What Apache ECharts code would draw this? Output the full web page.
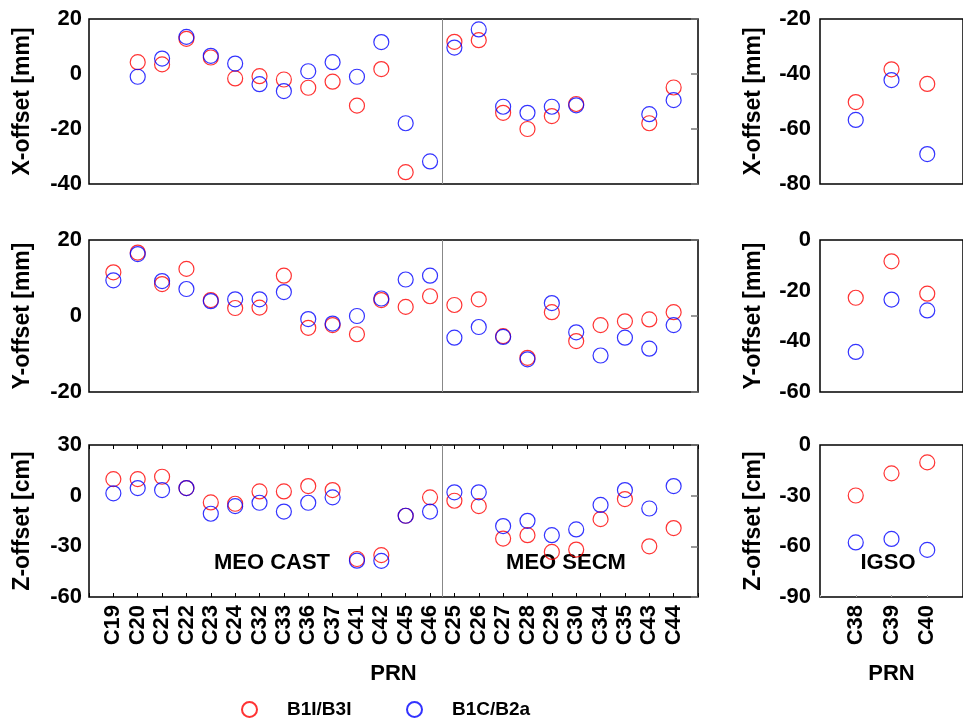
<!DOCTYPE html>
<html>
<head>
<meta charset="utf-8">
<script src="https://cdn.jsdelivr.net/npm/echarts@6/dist/echarts.min.js"></script>
<style>
  html, body { margin: 0; padding: 0; background: #fff; }
  #chart { width: 963px; height: 720px; }
</style>
</head>
<body>
<div id="chart"></div>
<script>
// Satellite PRNs, MEO (CAST then SECM) and IGSO
const prnMeo = ['C19','C20','C21','C22','C23','C24','C32','C33','C36','C37','C41','C42','C45','C46',
                'C25','C26','C27','C28','C29','C30','C34','C35','C43','C44'];
const prnIgso = ['C38','C39','C40'];

// PCO offsets, MEO satellites (null = no estimate)
const xMeoB1I = [null, 4.3, 3.5, 12.8, 6.0, -1.6, -0.8, -2.0, -5.0, -2.8, -11.5, 1.8, -35.7, null,
                 11.7, 12.3, -14.1, -20.0, -15.3, -10.9, null, null, -17.9, -4.9];
const xMeoB1C = [null, -1.0, 5.6, 13.5, 6.6, 3.8, -3.7, -6.2, 1.0, 4.3, -1.0, 11.6, -17.9, -31.8,
                 9.6, 16.2, -11.9, -14.1, -11.9, -11.4, null, null, -14.6, -9.5];
const yMeoB1I = [11.5, 16.7, 8.4, 12.4, 4.2, 2.1, 2.2, 10.6, -3.1, -2.4, -4.8, 4.2, 2.4, 5.2,
                 2.9, 4.4, -5.3, -11.0, 1.0, -6.6, -2.4, -1.4, -0.9, 1.0];
const yMeoB1C = [9.4, 16.3, 9.2, 7.1, 3.9, 4.4, 4.4, 6.3, -0.8, -2.0, 0.0, 4.6, 9.6, 10.6,
                 -5.7, -2.9, -5.5, -11.4, 3.4, -4.3, -10.4, -5.7, -8.6, -2.4];
const zMeoB1I = [9.8, 9.8, 11.2, 4.5, -4.0, -4.8, 2.5, 2.5, 5.7, 3.3, -37.5, -35.2, -11.9, -1.0,
                 -3.0, -6.2, -25.4, -23.4, -33.3, -31.9, -13.9, -2.0, -30.0, -19.2];
const zMeoB1C = [1.4, 4.5, 3.3, 4.5, -10.7, -6.2, -4.2, -9.4, -4.2, -1.0, -38.5, -38.6, -11.9, -9.4,
                 2.0, 2.0, -18.0, -14.9, -23.4, -20.0, -5.5, 3.3, -7.6, 5.7];

// PCO offsets, IGSO satellites
const xIgsoB1I = [-50.2, -38.3, -43.6];
const xIgsoB1C = [-56.7, -42.2, -69.1];
const yIgsoB1I = [-22.8, -8.4, -21.2];
const yIgsoB1C = [-44.2, -23.5, -27.8];
const zIgsoB1I = [-29.9, -16.8, -10.3];
const zIgsoB1C = [-57.7, -55.6, -62.1];

// Axis ranges: [min, max, interval]
const yRangesMeo = [[-40, 20, 20], [-20, 20, 20], [-60, 30, 30]];
const yRangesIgso = [[-80, -20, 20], [-60, 0, 20], [-90, 0, 30]];
const yNames = ['X-offset [mm]', 'Y-offset [mm]', 'Z-offset [cm]'];
const dividerPos = 14.5;   // between the CAST and SECM groups

const FONT = 'Liberation Sans, Arial, sans-serif';
const RED = '#ff0000';
const BLUE = '#0000ff';
const NAME1 = 'B1I/B3I';
const NAME2 = 'B1C/B2a';

const rowTops = [19, 240, 445];
const rowHeights = [165, 152, 152];

const grids = [], xAxes = [], yAxes = [], series = [];

function toPoints(vals) {
  const out = [];
  vals.forEach((v, i) => { if (v !== null) out.push([i + 1, v]); });
  return out;
}

function addPanel(row, isIgso) {
  const gi = grids.length;
  grids.push({
    left: isIgso ? 820 : 89,
    width: isIgso ? 153 : 609,
    top: rowTops[row],
    height: rowHeights[row],
    show: true,
    borderColor: '#000',
    borderWidth: 1.5,
    backgroundColor: 'transparent'
  });
  const labels = isIgso ? prnIgso : prnMeo;
  const bottomRow = row === 2;
  const xi = xAxes.length;
  xAxes.push({
    type: 'value', gridIndex: gi, position: 'bottom',
    min: 0, max: labels.length + 1, interval: 1,
    axisLine: { show: false, onZero: false },
    splitLine: { show: false },
    axisTick: { show: bottomRow, inside: true, length: isIgso ? 2 : 4,
                lineStyle: { color: isIgso ? '#aaa' : '#000', width: 1 } },
    axisLabel: {
      show: bottomRow, rotate: 90, margin: 8,
      fontFamily: FONT, fontWeight: 'bold', fontSize: 22, color: '#000',
      formatter: v => (v >= 1 && v <= labels.length) ? labels[v - 1] : ''
    },
    name: bottomRow ? 'PRN' : '',
    nameLocation: 'middle', nameGap: 66,
    nameTextStyle: { fontFamily: FONT, fontWeight: 'bold', fontSize: 22, color: '#000' }
  });
  if (bottomRow && !isIgso) {
    // tick marks along the top frame of the bottom panel
    xAxes.push({
      type: 'value', gridIndex: gi, position: 'top',
      min: 0, max: labels.length + 1, interval: 1,
      axisLine: { show: false, onZero: false }, splitLine: { show: false },
      axisTick: { show: true, inside: true, length: 4, lineStyle: { color: '#000', width: 1 } },
      axisLabel: { show: false }
    });
  }
  const r = isIgso ? yRangesIgso[row] : yRangesMeo[row];
  const yi = yAxes.length;
  yAxes.push({
    type: 'value', gridIndex: gi, position: 'left',
    min: r[0], max: r[1], interval: r[2],
    axisLine: { show: false, onZero: false }, splitLine: { show: false }, axisTick: { show: false },
    axisLabel: { margin: isIgso ? 9 : 7, fontFamily: FONT, fontWeight: 'bold', fontSize: 22, color: '#000' },
    name: yNames[row], nameLocation: 'middle', nameRotate: 90, nameGap: 55,
    nameTextStyle: { fontFamily: FONT, fontWeight: 'bold', fontSize: 23, color: '#000' }
  });
  if (!isIgso) {
    // inward ticks on the right frame
    yAxes.push({
      type: 'value', gridIndex: gi, position: 'right',
      min: r[0], max: r[1], interval: r[2],
      axisLine: { show: false, onZero: false }, splitLine: { show: false },
      axisTick: { show: true, inside: true, length: 7, lineStyle: { color: '#777', width: 1.5 } },
      axisLabel: { show: false }
    });
  }
  const src = isIgso
    ? [[xIgsoB1I, xIgsoB1C], [yIgsoB1I, yIgsoB1C], [zIgsoB1I, zIgsoB1C]][row]
    : [[xMeoB1I, xMeoB1C], [yMeoB1I, yMeoB1C], [zMeoB1I, zMeoB1C]][row];
  const common = {
    type: 'scatter', xAxisIndex: xi, yAxisIndex: yi,
    symbol: 'circle', symbolSize: 15, silent: true
  };
  series.push(Object.assign({}, common, {
    name: NAME1, data: toPoints(src[0]),
    itemStyle: { color: 'rgba(0,0,0,0)', borderColor: RED, borderWidth: 1.2 },
    markLine: isIgso ? undefined : {
      silent: true, symbol: 'none', label: { show: false },
      lineStyle: { color: '#888', width: 1, type: 'solid' },
      data: [{ xAxis: dividerPos }]
    }
  }));
  series.push(Object.assign({}, common, {
    name: NAME2, data: toPoints(src[1]),
    itemStyle: { color: 'rgba(0,0,0,0)', borderColor: BLUE, borderWidth: 1.2 }
  }));
}

for (let row = 0; row < 3; row++) {
  addPanel(row, false);
  addPanel(row, true);
}

const legendText = { fontFamily: FONT, fontWeight: 'bold', fontSize: 19, color: '#000', padding: [0, 0, 0, 25] };

const chart = echarts.init(document.getElementById('chart'), null, { renderer: 'canvas' });
chart.setOption({
  animation: false,
  backgroundColor: '#fff',
  grid: grids,
  xAxis: xAxes,
  yAxis: yAxes,
  series: series,
  legend: [
    { data: [NAME1], left: 236, top: 695, itemWidth: 15, itemHeight: 15, textStyle: legendText, selectedMode: false },
    { data: [NAME2], left: 401, top: 695, itemWidth: 15, itemHeight: 15, textStyle: legendText, selectedMode: false }
  ],
  graphic: [
    { type: 'text', x: 272, y: 563, style: { text: 'MEO CAST', font: 'bold 22px ' + FONT, fill: '#000', align: 'center', verticalAlign: 'middle' } },
    { type: 'text', x: 566, y: 563, style: { text: 'MEO SECM', font: 'bold 22px ' + FONT, fill: '#000', align: 'center', verticalAlign: 'middle' } },
    { type: 'text', x: 888, y: 563, style: { text: 'IGSO', font: 'bold 22px ' + FONT, fill: '#000', align: 'center', verticalAlign: 'middle' } }
  ]
});
</script>
</body>
</html>
